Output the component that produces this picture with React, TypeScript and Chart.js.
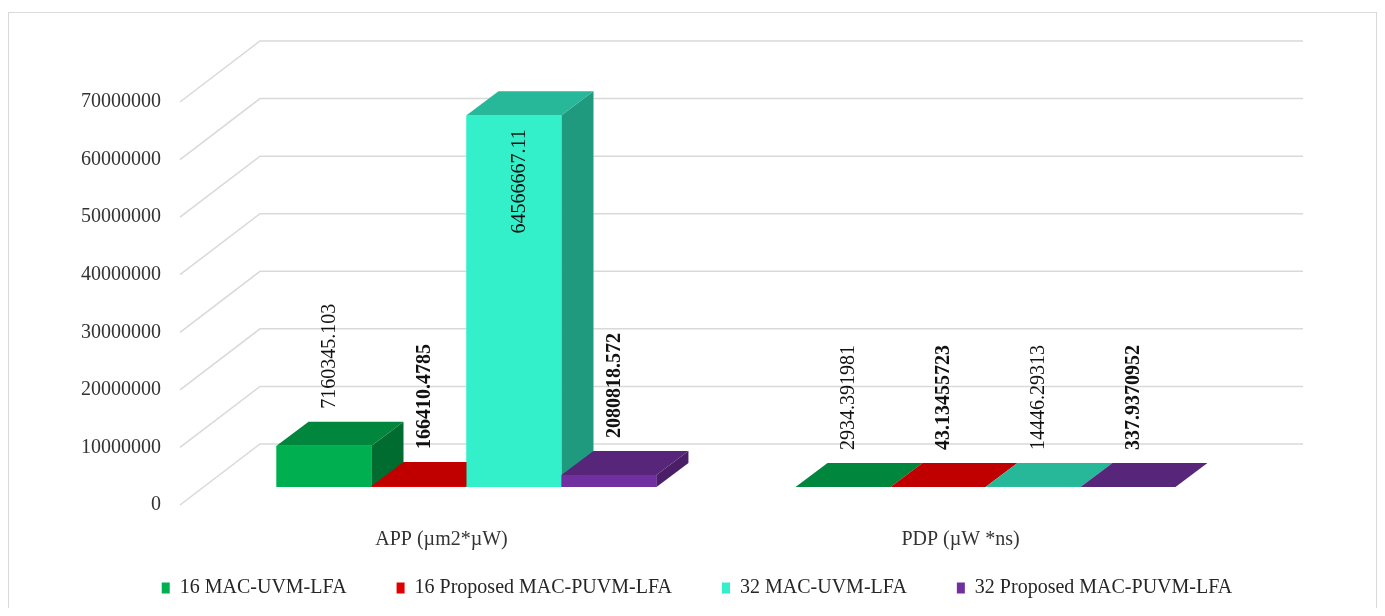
import React, { useEffect, useRef } from 'react';
import { Chart, registerables } from 'chart.js';

Chart.register(...registerables);

// ---------- data ----------
const categories = ['APP (µm2*µW)', 'PDP (µW *ns)'];
const seriesNames = [
  '16 MAC-UVM-LFA',
  '16 Proposed MAC-PUVM-LFA',
  '32 MAC-UVM-LFA',
  '32 Proposed MAC-PUVM-LFA',
];
const mac16 = [7160345.103, 2934.391981];
const proposed16 = [166410.4785, 43.13455723];
const mac32 = [64566667.11, 14446.29313];
const proposed32 = [2080818.572, 337.9370952];
const yTickMin = 0;
const yTickMax = 70000000;
const yTickStep = 10000000;

// ---------- styles ----------
const FONT = "'Liberation Serif', 'Times New Roman', serif";
const frontColors = ['#00b050', '#e00000', '#33f0cb', '#7030a0'];
const topColors = ['#00863d', '#c00000', '#26b898', '#57257a'];
const sideColors = ['#006c30', '#a00000', '#1f9a7e', '#4a1f68'];
const boldSeries = [false, true, false, true];

const DEPTH_X = 32;
const DEPTH_Y = 24;
const WALL_X_LEFT = 53;
const WALL_X_RIGHT = 58;
const WALL_Y = 43;
const FLOOR_X = 27;
const FLOOR_Y = 18;
const CAT_LABEL_SHIFT_X = -25;
const CAT_LABEL_Y = 53;

const threeD = {
  id: 'threeD',
  beforeDraw(chart: any) {
    const { ctx, width, height } = chart;
    ctx.save();
    ctx.fillStyle = '#ffffff';
    ctx.fillRect(0, 0, width, height);
    ctx.strokeStyle = '#d9d9d9';
    ctx.lineWidth = 1;
    ctx.strokeRect(0.5, 4.5, width - 1, height + 20);
    ctx.restore();
  },
  beforeDatasetsDraw(chart: any) {
    const { ctx, chartArea, scales } = chart;
    const ys = scales.y;
    ctx.save();
    ctx.strokeStyle = '#d9d9d9';
    ctx.lineWidth = 1.5;
    ys.ticks.forEach((t: any) => {
      const py = ys.getPixelForValue(t.value);
      ctx.beginPath();
      ctx.moveTo(chartArea.left - FLOOR_X, py + FLOOR_Y);
      ctx.lineTo(chartArea.left + WALL_X_LEFT, py - WALL_Y);
      ctx.lineTo(chartArea.right + WALL_X_RIGHT, py - WALL_Y);
      ctx.stroke();
    });
    ctx.restore();
  },
  afterDatasetsDraw(chart: any) {
    const { ctx, chartArea, scales } = chart;
    const bars: any[] = [];
    chart.data.datasets.forEach((ds: any, di: number) => {
      const meta = chart.getDatasetMeta(di);
      meta.data.forEach((el: any, i: number) => {
        const p = el.getProps(['x', 'y', 'base', 'width'], true);
        bars.push({ ...p, di, value: ds.data[i] });
      });
    });
    bars.sort((a, b) => a.x - b.x);
    ctx.save();
    bars.forEach((b) => {
      const left = b.x - b.width / 2;
      const right = b.x + b.width / 2;
      const top = Math.min(b.y, b.base);
      const bottom = Math.max(b.y, b.base);
      // side face
      ctx.fillStyle = sideColors[b.di];
      ctx.beginPath();
      ctx.moveTo(right, top);
      ctx.lineTo(right + DEPTH_X, top - DEPTH_Y);
      ctx.lineTo(right + DEPTH_X, bottom - DEPTH_Y);
      ctx.lineTo(right, bottom);
      ctx.closePath();
      ctx.fill();
      // top face
      ctx.fillStyle = topColors[b.di];
      ctx.beginPath();
      ctx.moveTo(left, top);
      ctx.lineTo(left + DEPTH_X, top - DEPTH_Y);
      ctx.lineTo(right + DEPTH_X, top - DEPTH_Y);
      ctx.lineTo(right, top);
      ctx.closePath();
      ctx.fill();
      // front face
      ctx.fillStyle = frontColors[b.di];
      ctx.fillRect(left, top, b.width, bottom - top);
    });
    // data labels
    bars.forEach((b) => {
      const text = String(b.value);
      ctx.font = `${boldSeries[b.di] ? 'bold ' : ''}20px ${FONT}`;
      const tw = ctx.measureText(text).width;
      const top = Math.min(b.y, b.base);
      let anchorY = top - 37;
      let align: CanvasTextAlign = 'left';
      if (anchorY - tw < 20) {
        anchorY = top + 14;
        align = 'right';
      }
      ctx.save();
      ctx.translate(b.x + 6, anchorY);
      ctx.rotate(-Math.PI / 2);
      ctx.textAlign = align;
      ctx.textBaseline = 'middle';
      ctx.fillStyle = '#111111';
      ctx.fillText(text, 0, 0);
      ctx.restore();
    });
    // category labels (positioned by the category scale)
    const xs = scales.x;
    ctx.font = `20px ${FONT}`;
    ctx.fillStyle = '#333333';
    ctx.textAlign = 'center';
    ctx.textBaseline = 'middle';
    (chart.data.labels as string[]).forEach((lab, i) => {
      ctx.fillText(lab, xs.getPixelForTick(i) + CAT_LABEL_SHIFT_X, chartArea.bottom + CAT_LABEL_Y);
    });
    ctx.restore();
  },
};

export default function App() {
  const canvasRef = useRef<HTMLCanvasElement | null>(null);

  useEffect(() => {
    if (!canvasRef.current) return;
    const seriesValues = [mac16, proposed16, mac32, proposed32];
    const chart = new Chart(canvasRef.current, {
      type: 'bar',
      data: {
        labels: categories,
        datasets: seriesNames.map((name, i) => ({
          label: name,
          data: seriesValues[i],
          backgroundColor: frontColors[i],
          borderWidth: 0,
          yAxisID: 'y',
        })),
      },
      options: {
        animation: false,
        responsive: true,
        maintainAspectRatio: false,
        layout: { padding: { left: 9, right: 0, top: 76, bottom: 0 } },
        datasets: { bar: { categoryPercentage: 0.732, barPercentage: 1 } },
        scales: {
          x: {
            grid: { display: false, drawTicks: false },
            border: { display: false },
            ticks: { display: false },
            afterFit(s: any) {
              s.height = 41;
            },
          },
          y: {
            min: yTickMin,
            max: yTickMax,
            grid: { display: false, drawTicks: false },
            border: { display: false },
            ticks: {
              stepSize: yTickStep,
              callback: (v: any) => String(v),
              font: { family: FONT, size: 20 },
              color: '#333333',
              padding: 46,
              labelOffset: 18,
            },
            afterFit(s: any) {
              s.width = 190;
            },
          },
          y2: {
            position: 'right',
            display: true,
            grid: { display: false, drawTicks: false },
            border: { display: false },
            ticks: { display: false },
            afterFit(s: any) {
              s.width = 132;
            },
          },
        },
        plugins: {
          legend: {
            position: 'bottom',
            align: 'center',
            labels: {
              boxWidth: 8,
              boxHeight: 11,
              padding: 50,
              font: { family: FONT, size: 20 },
              color: '#262626',
            },
          },
          tooltip: { enabled: false },
        },
      } as any,
      plugins: [threeD],
    });
    return () => chart.destroy();
  }, []);

  return (
    <div style={{ position: 'relative', width: 1369, height: 600 }}>
      <canvas ref={canvasRef} />
    </div>
  );
}
